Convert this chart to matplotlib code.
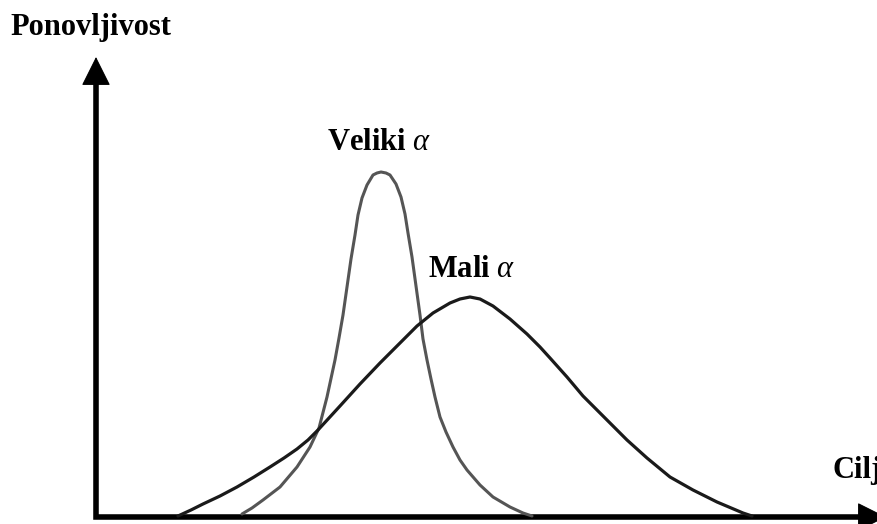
import matplotlib
matplotlib.use("Agg")
import matplotlib.pyplot as plt

# Data (units: horizontal = "Cilj", vertical = "Ponovljivost")
mali_x = [82, 95, 107, 124, 141, 158, 174, 188, 201, 212, 222, 244, 264, 284, 304,
          321, 337, 354, 364, 374, 384, 397, 414, 431, 444, 454, 471, 487, 507,
          531, 551, 574, 597, 621, 647, 656]
mali_y = [1, 7, 13, 21, 30, 40, 50, 59, 68, 77, 87, 111, 133, 154, 174,
          191, 204, 214, 218, 220, 218, 211, 198, 183, 170, 159, 140, 121, 101,
          77, 59, 40, 27, 15, 4, 1]

veliki_x = [146, 156, 167, 184, 201, 214, 223, 231, 239, 243, 247, 251, 255, 259,
            262, 266, 271, 277, 281, 285, 290, 294, 300, 305, 309, 312, 316, 320,
            324, 327, 331, 335, 339, 344, 350, 357, 364, 371, 384, 397, 414, 427, 436]
veliki_y = [3, 9, 17, 30, 50, 70, 89, 120, 157, 179, 202, 230, 258, 282,
            302, 319, 332, 342, 344, 345, 344, 342, 333, 320, 303, 284, 260, 231,
            202, 178, 157, 138, 120, 100, 85, 70, 57, 47, 32, 20, 10, 4, 1]

y_label = "Ponovljivost"
x_label = "Cilj"
label_veliki = r"Veliki $\alpha$"
label_mali = r"Mali $\alpha$"

plt.rcParams['mathtext.fontset'] = 'custom'
plt.rcParams['mathtext.it'] = 'Liberation Serif:italic'
plt.rcParams['mathtext.rm'] = 'Liberation Serif:bold'

fig = plt.figure(figsize=(8.77, 5.24), dpi=100)
ax = fig.add_axes([0, 0, 1, 1])
ax.set_xlim(-96, 781)
ax.set_ylim(-7, 517)
ax.axis('off')

# axes lines with arrow heads
y_tip, x_tip = 460, 790
head_len = 26
ax.plot([0, 0, x_tip - head_len + 2], [y_tip - head_len + 2, 0, 0], color='black',
        lw=4, solid_joinstyle='miter', solid_capstyle='butt', clip_on=False)
arrow_style = '-|>,head_length=0.94,head_width=0.47'
ax.annotate('', xy=(0, y_tip), xytext=(0, y_tip - head_len),
            arrowprops=dict(arrowstyle=arrow_style, mutation_scale=20, lw=0.8,
                            color='black', shrinkA=0, shrinkB=0))
ax.annotate('', xy=(x_tip, 0), xytext=(x_tip - head_len, 0),
            arrowprops=dict(arrowstyle=arrow_style, mutation_scale=20, lw=0.8,
                            color='black', shrinkA=0, shrinkB=0), annotation_clip=False)

# curves
ax.plot(veliki_x, veliki_y, color='#555555', lw=2.2, solid_joinstyle='round',
        solid_capstyle='round')
ax.plot(mali_x, mali_y, color='#1a1a1a', lw=2.3, solid_joinstyle='round',
        solid_capstyle='round')

font = dict(family='Liberation Serif', fontweight='bold', fontsize=22, color='black')
ax.text(-86, 482, y_label, ha='left', va='baseline', **font)
ax.text(737, 39, x_label, ha='left', va='baseline', **font)
ax.text(231, 367, label_veliki, ha='left', va='baseline', **font)
ax.text(332, 240, label_mali, ha='left', va='baseline', **font)

fig.savefig('out.png', dpi=100)
